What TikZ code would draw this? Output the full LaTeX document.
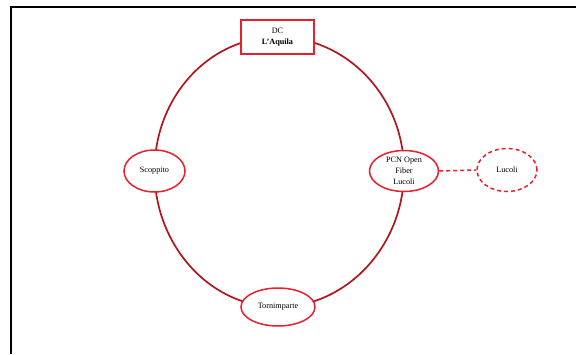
\documentclass[tikz,border=0pt]{standalone}
\usepackage{fontspec}
\setmainfont{Liberation Serif}
\usetikzlibrary{shapes.geometric, backgrounds}
\definecolor{ringred}{RGB}{176,22,30}
\definecolor{nodered}{RGB}{230,32,44}
\begin{document}
\begin{tikzpicture}[x=1pt, y=-1pt, font=\fontsize{8.2}{11}\selectfont,
    site/.style={draw=nodered, line width=1.5pt, fill=white, ellipse, inner sep=0pt, align=center},
    ring/.style={draw=ringred, line width=1.7pt},
    spur/.style={draw=nodered, line width=1.5pt, dash pattern=on 4pt off 3pt}]
    \useasboundingbox (0,0) rectangle (576,354);
    \draw[line width=1.8pt] (11,354) -- (11,7) -- (576,7);
    \node[draw=nodered, line width=1.6pt, fill=white, minimum width=73pt, minimum height=34pt, align=center] (dc) at (277.5,37) {DC\\\textbf{L’Aquila}};
    \node[site, minimum width=61pt, minimum height=42pt] (scop) at (154.5,171) {Scoppito};
    \node[site, minimum width=69pt, minimum height=41pt] (pcn) at (404,171) {PCN Open\\Fiber\\Lucoli};
    \node[site, minimum width=74pt, minimum height=38pt] (torn) at (278,307) {Tornimparte};
    \node[site, spur, ellipse, minimum width=60pt, minimum height=43pt] (luc) at (507,170) {Lucoli};
    % the ring, behind the sites
    \begin{scope}[on background layer]
      \draw[ring] (dc.center) .. controls +(-68,0) and +(0,-74.5) .. (scop.center);
      \draw[ring] (dc.center) .. controls +(69,0) and +(0,-74.5) .. (pcn.center);
      \draw[ring] (scop.center) .. controls +(0,74.5) and +(-68,0) .. (torn.center);
      \draw[ring] (pcn.center) .. controls +(0,74.5) and +(69,0) .. (torn.center);
    \end{scope}
    \draw[spur] (pcn.east) -- (luc.west);
\end{tikzpicture}
\end{document}
